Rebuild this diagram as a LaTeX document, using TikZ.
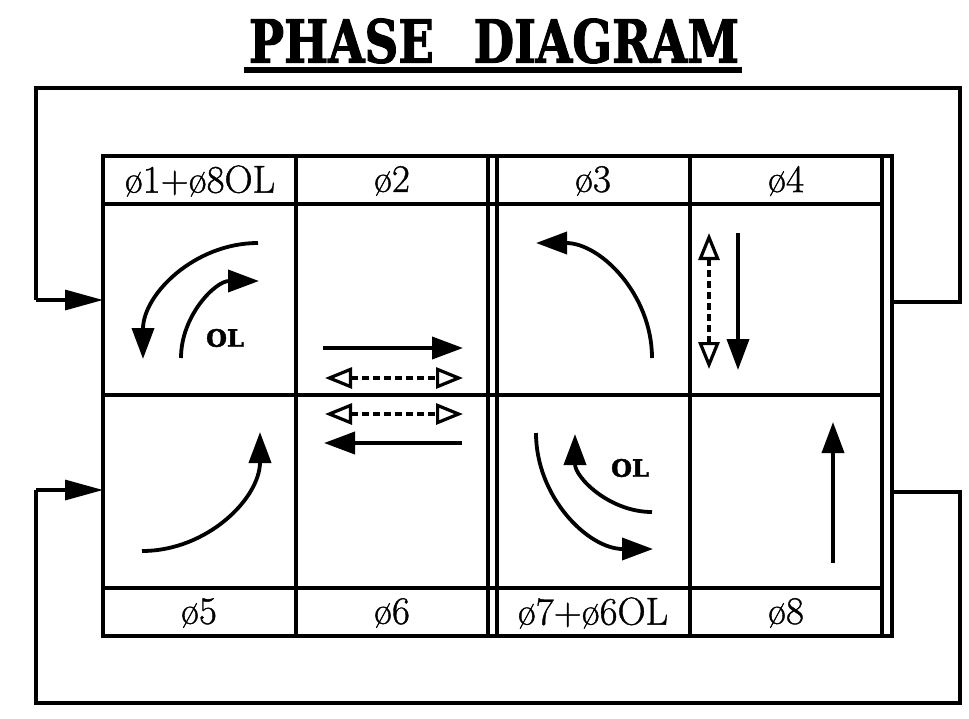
\documentclass[tikz,border=0pt]{standalone}
\usepackage{fontspec}
\usepackage{graphicx}
\newfontfamily\titlefont{DejaVu Serif}[FakeBold=2]
\newfontfamily\olfont{DejaVu Serif}[FakeBold=1.5]
\newfontfamily\labfont{Latin Modern Roman}[FakeBold=1.0]
\usetikzlibrary{arrows.meta}
\begin{document}
\begin{tikzpicture}[x=1pt,y=-1pt,
  gridline/.style={line width=3.4pt},
  flow/.style={line width=3.8pt,-{Triangle[length=31pt,width=22pt]}},
  dashflow/.style={line width=3.8pt,dash pattern=on 7pt off 4pt,
     {Triangle[open,length=27pt,width=21pt,line width=3.2pt]}-{Triangle[open,length=27pt,width=21pt,line width=3.2pt]}},
  loopline/.style={line width=3.2pt},
  loopin/.style={line width=3.2pt,-{Triangle[length=38pt,width=20pt]}},
  lab/.style={font=\labfont\fontsize{39}{42}\selectfont,inner sep=0pt},
  ol/.style={font=\olfont\bfseries\fontsize{24}{26}\selectfont,inner sep=0pt}]
\useasboundingbox (0,0) rectangle (969,718);
% title
\node[inner sep=0pt] (title) at (494,41) {\resizebox{490pt}{44pt}{\titlefont\bfseries PHASE\hspace{0.85em}DIAGRAM}};
\fill (244,67) rectangle (742,73);
% grid
\draw[gridline] (103,156) rectangle (892,636);
\draw[gridline] (103,204) -- (882,204);
\draw[gridline] (103,395) -- (882,395);
\draw[gridline] (103,588) -- (882,588);
\foreach \xx in {296,488,497,690,882} \draw[gridline] (\xx,156) -- (\xx,636);
% labels
\node[lab] (h1) at (200,181) {ø1+ø8OL};
\node[lab] (h2) at (392,181) {ø2};
\node[lab] (h3) at (593,181) {ø3};
\node[lab] (h4) at (786,181) {ø4};
\node[lab] (f5) at (199,613) {ø5};
\node[lab] (f6) at (392,613) {ø6};
\node[lab] (f7) at (593,613) {ø7+ø6OL};
\node[lab] (f8) at (786,613) {ø8};
% cell 1
\draw[flow] (258,243) .. controls (194.5,243) and (143,294.5) .. (143,359);
\draw[flow] (181,358) .. controls (181,315.5) and (215.5,281) .. (259,281);
\node[ol] (ol1) at (225,338) {OL};
% cell 2 / 6
\draw[flow] (323,348) -- (463,348);
\draw[dashflow] (325,378) -- (463,378);
\draw[dashflow] (325,414) -- (463,414);
\draw[flow] (462,443) -- (324,443);
% cell 3
\draw[flow] (652,358) .. controls (652,294.5) and (600.5,243) .. (536,243);
% cell 4
\draw[dashflow] (709,233) -- (709,369);
\draw[flow] (738,233) -- (738,370);
% cell 5
\draw[flow] (142,551) .. controls (207.2,551) and (260,498.2) .. (260,432);
% cell 7
\draw[flow] (536,433) .. controls (536,497) and (588,549) .. (653,549);
\draw[flow] (652,512) .. controls (609.5,512) and (575,477.5) .. (575,434);
\node[ol] (ol2) at (630,468) {OL};
% cell 8
\draw[flow] (833,563) -- (833,422);
% feedback loops
\coordinate (a1) at (892,302);
\coordinate (a2) at (103,300);
\coordinate (b1) at (892,492);
\coordinate (b2) at (103,490);
\draw[loopline] (a1) -- (960,302) -- (960,88) -- (36,88) -- (36,300);
\draw[loopin] (36,300) -- (a2);
\draw[loopline] (b1) -- (960,492) -- (960,703) -- (36,703) -- (36,490);
\draw[loopin] (36,490) -- (b2);
\end{tikzpicture}
\end{document}
